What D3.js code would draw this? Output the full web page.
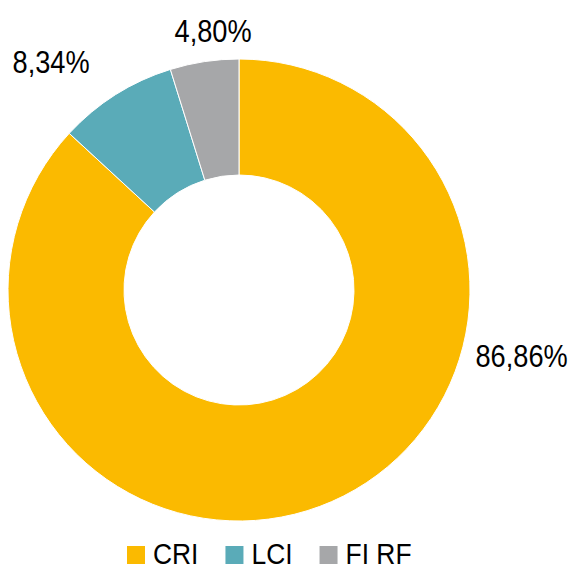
<!DOCTYPE html>
<html>
<head>
<meta charset="utf-8">
<script src="https://cdn.jsdelivr.net/npm/d3@7"></script>
<style>
  body { margin: 0; background: #fff; }
  svg text { font-family: "Liberation Sans Narrow", "Arial Narrow", "Liberation Sans", sans-serif; fill: #000; }
</style>
</head>
<body>
<svg id="chart" width="571" height="567"></svg>
<script>
// data
const categories = ["CRI", "LCI", "FI RF"];
const shares = [86.86, 8.34, 4.80];
const labels = ["86,86%", "8,34%", "4,80%"];
const colors = ["#FBBA00", "#5AABB8", "#A6A7A9"];

const svg = d3.select("#chart");
const cx = 239, cy = 290;
const outerR = 231, innerR = 115;
const narrow = 0.85; // squeeze regular sans into a narrow face

const data = categories.map((c, i) => ({ name: c, value: shares[i], label: labels[i] }));

const pie = d3.pie().sort(null).value(d => d.value);
const arcs = pie(data);

const arc = d3.arc().innerRadius(innerR).outerRadius(outerR);

const g = svg.append("g").attr("transform", `translate(${cx},${cy})`);

g.selectAll("path.slice")
  .data(arcs)
  .join("path")
  .attr("class", "slice")
  .attr("d", arc)
  .attr("fill", (d, i) => colors[i])
  .attr("stroke", "#fff")
  .attr("stroke-width", 1);

// label placement (polar offsets from the centre, degrees / px)
const labelPos = [
  { angle: 103, r: 290 },
  { angle: -39.4, r: 296 },
  { angle: -5.7, r: 261 }
];

g.selectAll("text.lbl")
  .data(arcs)
  .join("text")
  .attr("class", "lbl")
  .attr("transform", (d, i) => {
    const a = labelPos[i].angle * Math.PI / 180;
    return `translate(${labelPos[i].r * Math.sin(a)},${-labelPos[i].r * Math.cos(a)}) scale(${narrow},1)`;
  })
  .attr("dy", "0.36em")
  .attr("text-anchor", "middle")
  .style("font-size", "32px")
  .text(d => d.data.label);

// legend
const legend = svg.append("g");
const sq = 18, gap = 8, itemGap = 27;
let lx = 0;
const items = legend.selectAll("g.item")
  .data(data)
  .join("g")
  .attr("class", "item");

items.append("rect")
  .attr("width", sq)
  .attr("height", sq)
  .attr("y", -sq / 2)
  .attr("fill", (d, i) => colors[i]);

items.append("text")
  .attr("transform", `translate(${sq + gap},0) scale(0.88,1)`)
  .attr("y", 9)
  .style("font-size", "30px")
  .text(d => d.name);

items.each(function() {
  const w = this.getBoundingClientRect().width;
  d3.select(this).attr("transform", `translate(${lx},0)`);
  lx += w + itemGap;
});
legend.attr("transform", `translate(127,555)`);
</script>
</body>
</html>
